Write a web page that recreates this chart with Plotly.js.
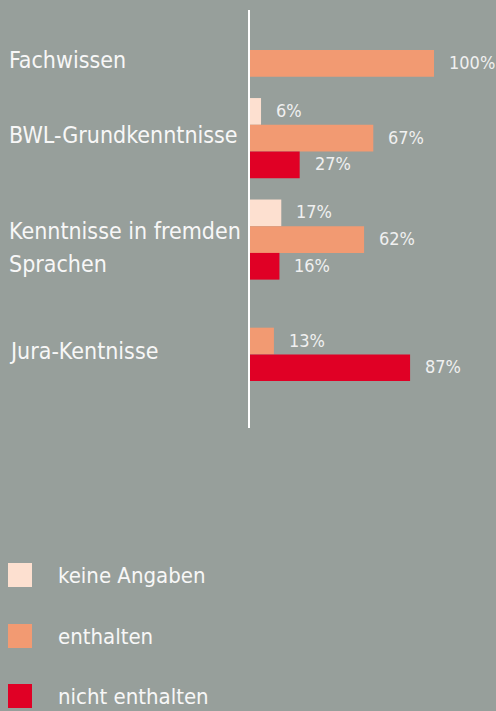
<!DOCTYPE html>
<html>
<head>
<meta charset="utf-8">
<script src="https://cdn.plot.ly/plotly-3.0.1.min.js"></script>
<style>
html,body{margin:0;padding:0;background:#979f9b;}
#chart{width:496px;height:711px;}
</style>
</head>
<body>
<div id="chart"></div>
<script>
// ---- data ----
const categories = ["Fachwissen", "BWL-Grundkenntnisse", "Kenntnisse in fremden<br>Sprachen", "Jura-Kentnisse"];
const seriesNames = ["keine Angaben", "enthalten", "nicht enthalten"];
// null = no bar row drawn for that group, 0 = empty row kept
const keineAngaben   = [null, 6, 17, 0];
const enthalten      = [100, 67, 62, 13];
const nichtEnthalten = [null, 27, 16, 87];
const seriesColors = ["#fde0d0", "#f29a72", "#e00025"];

// ---- layout helpers ----
const W = 496, H = 711;
const M = {l: 250, r: 0, t: 10, b: 283};
const plotW = W - M.l - M.r, plotH = H - M.t - M.b;
const pxX = px => (px - M.l) / plotW;
const pxY = py => (H - M.b - py) / plotH;
const FONT = '"DejaVu Sans Condensed", "DejaVu Sans", sans-serif';

const seriesValues = [keineAngaben, enthalten, nichtEnthalten];
const GAP = 0.8;
let cursor = 0;
const rowY = seriesValues.map(() => categories.map(() => null));
const groupCenters = [];
categories.forEach((c, ci) => {
  const filled = [];
  seriesValues.forEach((vals, si) => {
    if (vals[ci] !== null) {
      rowY[si][ci] = cursor + 0.5;
      if (vals[ci] > 0) filled.push(cursor + 0.5);
      cursor += 1;
    }
  });
  groupCenters.push((Math.min(...filled) + Math.max(...filled)) / 2);
  cursor += GAP;
});

const traces = seriesValues.map((vals, si) => {
  const xs = [], ys = [];
  vals.forEach((v, ci) => { if (v !== null) { xs.push(v); ys.push(rowY[si][ci]); } });
  return {
    type: 'bar', orientation: 'h', name: seriesNames[si],
    x: xs, y: ys, width: 1, marker: {color: seriesColors[si], line: {width: 0}},
    showlegend: false, hoverinfo: 'skip'
  };
});

const annotations = [];
seriesValues.forEach((vals, si) => {
  vals.forEach((v, ci) => {
    if (v !== null && v > 0) {
      annotations.push({
        x: v, y: rowY[si][ci], xref: 'x', yref: 'y', text: v + '%',
        showarrow: false, xanchor: 'left', yanchor: 'middle', xshift: 13, yshift: 1,
        font: {family: FONT, size: 18, color: '#f0f0f0'}
      });
    }
  });
});
categories.forEach((c, ci) => {
  const lines = c.split('<br>');
  const LINE = 33;
  const firstShift = lines.length === 1 ? 3 : 9;
  lines.forEach((ln, li) => {
    annotations.push({
      x: pxX(7), xref: 'paper', y: groupCenters[ci], yref: 'y', text: ln,
      showarrow: false, xanchor: 'left', yanchor: 'middle', align: 'left',
      yshift: firstShift - li * LINE,
      font: {family: FONT, size: 23, color: '#f7f7f7'}
    });
  });
});

const shapes = [];
const legendTops = [563, 624, 684];
seriesNames.forEach((n, si) => {
  const top = legendTops[si];
  shapes.push({
    type: 'rect', xref: 'paper', yref: 'paper',
    x0: pxX(8), x1: pxX(32), y0: pxY(top + 24), y1: pxY(top),
    fillcolor: seriesColors[si], line: {width: 0}
  });
  annotations.push({
    x: pxX(56), xref: 'paper', y: pxY(top + 12), yref: 'paper', text: n,
    showarrow: false, xanchor: 'left', yanchor: 'middle',
    font: {family: FONT, size: 22, color: '#f7f7f7'}
  });
});

const layout = {
  width: W, height: H,
  margin: M,
  paper_bgcolor: '#979f9b', plot_bgcolor: '#979f9b',
  barmode: 'overlay',
  showlegend: false,
  xaxis: {range: [0, (W - M.l - M.r) / 1.84], visible: false, fixedrange: true},
  yaxis: {range: [(428 - 50) / 26.7, (10 - 50) / 26.7], showline: true, linecolor: '#ffffff', linewidth: 2,
          showticklabels: false, showgrid: false, zeroline: false, ticks: '', fixedrange: true},
  annotations: annotations,
  shapes: shapes
};

Plotly.newPlot('chart', traces, layout, {displayModeBar: false, staticPlot: true});
</script>
</body>
</html>
